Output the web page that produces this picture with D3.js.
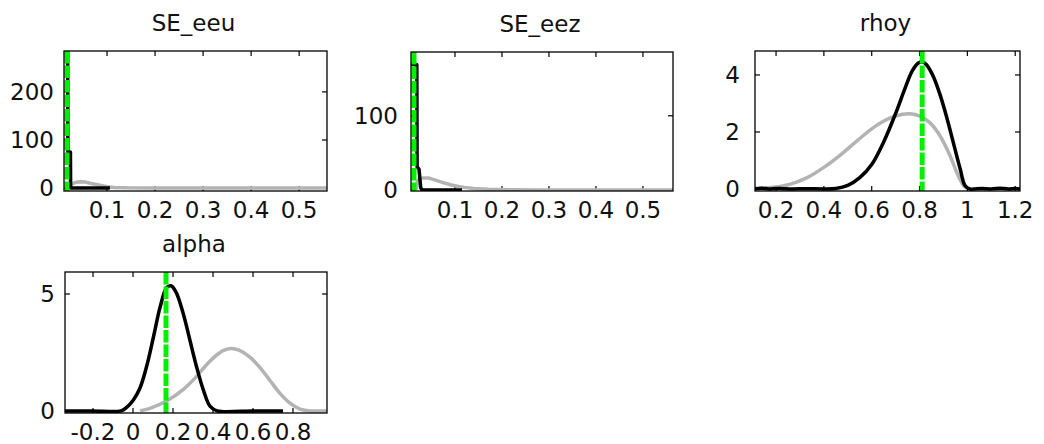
<!DOCTYPE html>
<html>
<head>
<meta charset="utf-8">
<script src="https://cdn.jsdelivr.net/npm/d3@7"></script>
<style>
  body { margin: 0; background: #fff; }
  svg { display: block; }
  text { font-family: "DejaVu Sans", sans-serif; fill: #111; }
</style>
</head>
<body>
<svg id="chart" width="1044" height="444"></svg>
<script>
// titles and tick labels
const titles = ["SE_eeu", "SE_eez", "rhoy", "alpha"];
const xTicks = [
  [0.1, 0.2, 0.3, 0.4, 0.5],
  [0.1, 0.2, 0.3, 0.4, 0.5],
  [0.2, 0.4, 0.6, 0.8, 1, 1.2],
  [-0.2, 0, 0.2, 0.4, 0.6, 0.8]
];
const yTicks = [[0, 100, 200], [0, 100], [0, 2, 4], [0, 5]];

// mode (green dashed) per panel
const modes = [0.0165, 0.0128, 0.811, 0.165];

// prior densities (grey), [x, density]
const eeuPrior = [[0.02,0],[0.025,8],[0.035,12],[0.045,13],[0.055,12.5],[0.065,10],[0.075,8],[0.085,6],[0.1,3],[0.115,1.5],[0.14,0.5],[0.2,0],[0.558,0]];
const eezPrior = [[0.017,0],[0.02,12],[0.03,16],[0.045,16],[0.06,13],[0.075,10],[0.09,7],[0.105,5],[0.12,3.5],[0.14,2],[0.17,1],[0.22,0.3],[0.3,0],[0.564,0]];
const rhoyPrior = [[0.119,0.02],[0.19,0.06],[0.26,0.17],[0.33,0.4],[0.4,0.76],[0.47,1.2],[0.54,1.7],[0.61,2.17],[0.68,2.5],[0.73,2.62],[0.76,2.64],[0.8,2.56],[0.844,2.32],[0.886,1.86],[0.928,1.16],[0.956,0.58],[0.984,0.12],[1.0,0.02]];
const alphaPrior = [[0.035,0],[0.085,0.11],[0.168,0.42],[0.252,0.92],[0.31,1.4],[0.36,1.9],[0.41,2.33],[0.45,2.58],[0.49,2.67],[0.53,2.6],[0.585,2.3],[0.635,1.85],[0.685,1.3],[0.735,0.75],[0.785,0.33],[0.835,0.08],[0.885,0],[0.97,0]];

// posterior densities (black), [x, density]
const eeuPost = [[0.011,300],[0.018,300],[0.0185,75],[0.0238,75],[0.0242,0],[0.106,0]];
const eezPost = [[0.0066,169],[0.0188,169],[0.0194,31],[0.0235,28],[0.027,3],[0.03,0],[0.115,0]];
const rhoyPost = [[0.112,0.01],[0.14,0.03],[0.17,0],[0.2,0.02],[0.23,0.01],[0.27,0],[0.33,0.01],[0.4,0],[0.45,0.02],[0.5,0.13],[0.55,0.4],[0.6,0.86],[0.65,1.65],[0.7,2.65],[0.74,3.55],[0.77,4.15],[0.795,4.42],[0.812,4.46],[0.83,4.35],[0.858,3.94],[0.886,3.3],[0.914,2.5],[0.942,1.6],[0.97,0.7],[0.99,0.12],[1.01,0],[1.06,0.02],[1.1,0],[1.14,0.03],[1.17,0],[1.2,0.02],[1.22,0]];
const alphaPost = [[-0.34,0],[-0.2,0],[-0.06,0],[-0.032,0.15],[0.002,0.47],[0.035,0.98],[0.068,1.9],[0.102,3.15],[0.135,4.42],[0.168,5.27],[0.19,5.35],[0.215,5.08],[0.25,4.2],[0.285,3.01],[0.318,1.88],[0.352,0.89],[0.385,0.2],[0.42,0],[0.6,0],[0.75,0]];

const priors = [eeuPrior, eezPrior, rhoyPrior, alphaPrior];
const posts = [eeuPost, eezPost, rhoyPost, alphaPost];

// panel placement and axis limits
const layout = [
  {x0: 64,  y0: 51,  x1: 327,  y1: 191, xd: [0.0104, 0.558], yd: [-6, 285],     lab: 10, smooth: false},
  {x0: 411, y0: 52,  x1: 673,  y1: 191, xd: [0.0064, 0.564], yd: [-1.4, 186],   lab: 13, smooth: false},
  {x0: 755, y0: 51,  x1: 1020, y1: 191, xd: [0.112, 1.22],   yd: [-0.07, 4.84], lab: 15, smooth: true},
  {x0: 65,  y0: 272, x1: 327,  y1: 413, xd: [-0.34, 0.97],   yd: [-0.09, 5.94], lab: 10, smooth: true}
];

const svg = d3.select("#chart");
const tickLen = 5;

layout.forEach(function(p, i) {
  var x = d3.scaleLinear().domain(p.xd).range([p.x0, p.x1]);
  var y = d3.scaleLinear().domain(p.yd).range([p.y1, p.y0]);
  var g = svg.append("g");

  g.append("clipPath").attr("id", "clip" + i)
    .append("rect")
    .attr("x", p.x0).attr("y", p.y0)
    .attr("width", p.x1 - p.x0).attr("height", p.y1 - p.y0);

  // ticks pointing inward on all four sides
  var tk = g.append("g").attr("stroke", "#000").attr("stroke-width", 1.2);
  xTicks[i].forEach(function(v) {
    tk.append("line").attr("x1", x(v)).attr("x2", x(v)).attr("y1", p.y1).attr("y2", p.y1 - tickLen);
    tk.append("line").attr("x1", x(v)).attr("x2", x(v)).attr("y1", p.y0).attr("y2", p.y0 + tickLen);
  });
  yTicks[i].forEach(function(v) {
    tk.append("line").attr("x1", p.x0).attr("x2", p.x0 + tickLen).attr("y1", y(v)).attr("y2", y(v));
    tk.append("line").attr("x1", p.x1).attr("x2", p.x1 - tickLen).attr("y1", y(v)).attr("y2", y(v));
  });

  var line = d3.line()
    .x(function(d) { return x(d[0]); })
    .y(function(d) { return y(d[1]); })
    .curve(p.smooth ? d3.curveCatmullRom.alpha(0.5) : d3.curveLinear);

  var plot = g.append("g").attr("clip-path", "url(#clip" + i + ")");

  plot.append("path")
    .datum(priors[i])
    .attr("d", line)
    .attr("fill", "none")
    .attr("stroke", "#b3b3b3")
    .attr("stroke-width", 3.5)
    .attr("stroke-linejoin", "round");

  plot.append("path")
    .datum(posts[i])
    .attr("d", line)
    .attr("fill", "none")
    .attr("stroke", "#000")
    .attr("stroke-width", 3.5)
    .attr("stroke-linejoin", "round");

  plot.append("line")
    .attr("x1", x(modes[i])).attr("x2", x(modes[i]))
    .attr("y1", p.y0).attr("y2", p.y1)
    .attr("stroke", "#00f000")
    .attr("stroke-width", 5)
    .attr("stroke-dasharray", "12.5,2");

  // box
  g.append("rect")
    .attr("x", p.x0).attr("y", p.y0)
    .attr("width", p.x1 - p.x0).attr("height", p.y1 - p.y0)
    .attr("fill", "none")
    .attr("stroke", "#000")
    .attr("stroke-width", 1.3);

  // tick labels
  g.selectAll(".xl").data(xTicks[i]).enter()
    .append("text")
    .attr("x", function(d) { return x(d); })
    .attr("y", p.y1 + 27)
    .attr("text-anchor", "middle")
    .attr("font-size", 23)
    .text(function(d) { return String(d); });

  g.selectAll(".yl").data(yTicks[i]).enter()
    .append("text")
    .attr("x", p.x0 - p.lab)
    .attr("y", function(d) { return y(d); })
    .attr("dy", "0.36em")
    .attr("text-anchor", "end")
    .attr("font-size", 23)
    .text(function(d) { return String(d); });

  g.append("text")
    .attr("x", (p.x0 + p.x1) / 2 - 2)
    .attr("y", p.y0 - 20)
    .attr("text-anchor", "middle")
    .attr("font-size", 23)
    .text(titles[i]);
});
</script>
</body>
</html>
